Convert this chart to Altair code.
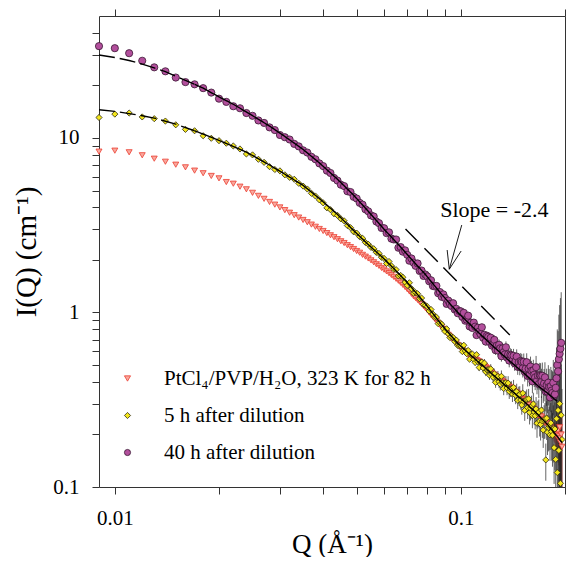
import altair as alt
import pandas as pd

FONT = "Liberation Serif"

SERIES = ["PtCl₄/PVP/H₂O, 323 K for 82 h", "5 h after dilution", "40 h after dilution"]
SHAPES = ["triangle-down", "diamond", "circle"]
FILLS = ["#f8a89d", "#f3e61c", "#b24f9c"]
STROKES = ["#ec3d31", "#2e2a10", "#3a1834"]
SIZES = [36, 38, 52]

# scattering vector Q (1/Angstrom), shared grid
Q = [0.009, 0.010, 0.011, 0.012, 0.013, 0.014, 0.015, 0.016, 0.017, 0.018,
     0.019, 0.020, 0.021, 0.022, 0.023, 0.024, 0.025, 0.026, 0.027, 0.028,
     0.029, 0.030, 0.031, 0.032, 0.033, 0.034, 0.035, 0.036, 0.037, 0.038,
     0.039, 0.040, 0.041, 0.042, 0.043, 0.044, 0.045, 0.046, 0.047, 0.048,
     0.049, 0.050, 0.051, 0.052, 0.053, 0.054, 0.055, 0.056, 0.057, 0.058,
     0.059, 0.060, 0.061, 0.062, 0.063, 0.064, 0.065, 0.066, 0.067, 0.068,
     0.069, 0.070, 0.071, 0.072, 0.073, 0.074, 0.075, 0.076, 0.077, 0.078,
     0.079, 0.080, 0.081, 0.082, 0.083, 0.084, 0.085, 0.086, 0.087, 0.088,
     0.089, 0.090, 0.091, 0.092, 0.093, 0.094, 0.095, 0.096, 0.097, 0.098,
     0.099, 0.100, 0.101, 0.102, 0.103, 0.104, 0.105, 0.106, 0.107, 0.108,
     0.109, 0.110, 0.111, 0.112, 0.113, 0.114, 0.115, 0.116, 0.117, 0.118,
     0.119, 0.120, 0.121, 0.122, 0.123, 0.124, 0.125, 0.126, 0.127, 0.128,
     0.129, 0.130, 0.131, 0.132, 0.133, 0.134, 0.135, 0.136, 0.137, 0.138,
     0.139, 0.140, 0.141, 0.142, 0.143, 0.144, 0.145, 0.146, 0.147, 0.148,
     0.149, 0.150, 0.151, 0.152, 0.153, 0.154, 0.155, 0.156, 0.157, 0.158,
     0.159, 0.160, 0.161, 0.162, 0.163, 0.164, 0.165, 0.166, 0.167, 0.168,
     0.169, 0.170, 0.171, 0.172, 0.173, 0.174, 0.175, 0.176, 0.177, 0.178,
     0.179, 0.180, 0.181, 0.182, 0.183, 0.184, 0.185, 0.186, 0.187, 0.188,
     0.189, 0.190, 0.191, 0.192, 0.193, 0.194, 0.195, 0.196]

I_PT = [8.35, 8.46, 8.28, 7.96, 7.61, 7.31, 7.03, 6.79, 6.50, 6.28,
        6.06, 5.87, 5.59, 5.47, 5.26, 5.08, 4.85, 4.66, 4.48, 4.30,
        4.15, 4.00, 3.86, 3.73, 3.61, 3.50, 3.39, 3.29, 3.19, 3.10,
        3.01, 2.93, 2.85, 2.77, 2.70, 2.63, 2.56, 2.50, 2.43, 2.37,
        2.31, 2.25, 2.20, 2.14, 2.09, 2.04, 1.99, 1.94, 1.89, 1.85,
        1.80, 1.76, 1.72, 1.68, 1.64, 1.60, 1.56, 1.52, 1.48, 1.44,
        1.40, 1.36, 1.32, 1.28, 1.24, 1.21, 1.18, 1.15, 1.12, 1.09,
        1.06, 1.03, 1.00, 0.97, 0.945, 0.92, 0.895, 0.87, 0.85, 0.825,
        0.805, 0.785, 0.765, 0.745, 0.728, 0.711, 0.695, 0.68, 0.665, 0.651,
        0.637, 0.624, 0.612, 0.601, 0.591, 0.582, 0.573, 0.565, 0.56, 0.553,
        0.547, 0.54, 0.534, 0.528, 0.522, 0.516, 0.509, 0.501, 0.494, 0.486,
        0.479, 0.471, 0.464, 0.457, 0.45, 0.443, 0.437, 0.432, 0.427, 0.422,
        0.417, 0.412, 0.407, 0.403, 0.398, 0.394, 0.389, 0.385, 0.38, 0.376,
        0.372, 0.368, 0.368, 0.359, 0.352, 0.35, 0.346, 0.342, 0.342, 0.334,
        0.33, 0.326, 0.318, 0.318, 0.314, 0.31, 0.31, 0.302, 0.298, 0.294,
        0.286, 0.287, 0.283, 0.279, 0.28, 0.272, 0.269, 0.265, 0.258, 0.258,
        0.255, 0.252, 0.253, 0.246, 0.243, 0.24, 0.233, 0.234, 0.232, 0.229,
        0.23, 0.224, 0.221, 0.219, 0.212, 0.213, 0.21, 0.207, 0.208, 0.201,
        0.198, 0.195, 0.21, 0.19, 0.22, 0.18, 0.2, 0.17]

I_5H = [13.1, 13.7, 13.9, 13.2, 12.9, 12.5, 11.9, 11.2, 11.0, 10.3,
        9.96, 9.65, 9.33, 9.0, 8.65, 8.1, 8.0, 7.55, 7.25, 6.85,
        6.6, 6.48, 6.15, 5.95, 5.8, 5.5, 5.3, 5.1, 4.82, 4.65,
        4.42, 4.25, 3.98, 3.88, 3.68, 3.6, 3.44, 3.35, 3.15, 3.06,
        2.9, 2.85, 2.72, 2.66, 2.52, 2.46, 2.36, 2.32, 2.21, 2.18,
        2.07, 2.04, 1.91, 1.96, 1.85, 1.77, 1.76, 1.62, 1.63, 1.59,
        1.49, 1.43, 1.48, 1.37, 1.29, 1.3, 1.28, 1.2, 1.21, 1.11,
        1.1, 1.08, 1.02, 1.04, 0.98, 0.94, 0.94, 0.863, 0.874, 0.857,
        0.807, 0.779, 0.806, 0.755, 0.718, 0.727, 0.719, 0.683, 0.695, 0.647,
        0.645, 0.645, 0.597, 0.649, 0.602, 0.581, 0.606, 0.54, 0.576, 0.578,
        0.537, 0.517, 0.573, 0.523, 0.484, 0.517, 0.519, 0.481, 0.513, 0.457,
        0.469, 0.471, 0.437, 0.475, 0.441, 0.425, 0.445, 0.398, 0.426, 0.43,
        0.401, 0.388, 0.431, 0.395, 0.367, 0.394, 0.396, 0.369, 0.394, 0.353,
        0.364, 0.367, 0.341, 0.372, 0.347, 0.335, 0.352, 0.314, 0.337, 0.339,
        0.315, 0.295, 0.345, 0.31, 0.275, 0.313, 0.319, 0.285, 0.32, 0.267,
        0.283, 0.29, 0.257, 0.299, 0.269, 0.256, 0.28, 0.232, 0.264, 0.269,
        0.239, 0.228, 0.276, 0.239, 0.212, 0.241, 0.246, 0.143, 0.248, 0.206,
        0.219, 0.225, 0.199, 0.233, 0.208, 0.198, 0.216, 0.168, 0.215, 0.144,
        0.246, 0.121, 0.275, 0.162, 0.30, 0.105, 0.258, 0.187]

I_40H = [33.6, 32.7, 30.6, 27.7, 25.4, 24.1, 22.2, 20.9, 20.3, 19.3,
         18.2, 16.8, 16.1, 15.2, 14.8, 13.9, 13.4, 12.6, 12.2, 11.5,
         11.1, 10.4, 10.1, 9.8, 9.25, 8.95, 8.5, 8.25, 7.8, 7.55,
         7.15, 6.9, 6.5, 6.3, 5.9, 5.7, 5.4, 5.3, 4.95, 4.9,
         4.6, 4.5, 4.25, 4.15, 3.9, 3.8, 3.6, 3.55, 3.32, 3.25,
         3.05, 3.04, 2.85, 2.88, 2.65, 2.62, 2.62, 2.35, 2.37, 2.23,
         2.27, 2.14, 1.98, 2.04, 1.93, 1.85, 1.91, 1.73, 1.74, 1.62,
         1.65, 1.61, 1.51, 1.53, 1.42, 1.41, 1.42, 1.29, 1.31, 1.23,
         1.27, 1.21, 1.12, 1.17, 1.12, 1.09, 1.13, 1.04, 1.05, 0.99,
         1.02, 1.015, 0.943, 0.996, 0.897, 0.91, 0.959, 0.832, 0.875, 0.815,
         0.875, 0.83, 0.742, 0.818, 0.778, 0.752, 0.823, 0.716, 0.745, 0.681,
         0.736, 0.725, 0.678, 0.717, 0.646, 0.66, 0.697, 0.608, 0.646, 0.605,
         0.653, 0.624, 0.562, 0.622, 0.593, 0.575, 0.632, 0.552, 0.576, 0.53,
         0.573, 0.567, 0.532, 0.565, 0.512, 0.526, 0.559, 0.488, 0.52, 0.488,
         0.528, 0.521, 0.479, 0.522, 0.457, 0.477, 0.519, 0.433, 0.476, 0.437,
         0.49, 0.463, 0.403, 0.466, 0.44, 0.425, 0.486, 0.407, 0.435, 0.389,
         0.438, 0.434, 0.4, 0.434, 0.378, 0.392, 0.425, 0.352, 0.384, 0.352,
         0.396, 0.374, 0.326, 0.378, 0.357, 0.346, 0.396, 0.333, 0.34, 0.37,
         0.42, 0.5, 0.46, 0.54, 0.58, 0.62, 0.67]

# relative error bars (fraction of I) at the high-Q end
ERR_PT_START = 0.180
ERR_PT = [0.05, 0.06, 0.07, 0.08, 0.09, 0.1, 0.12, 0.14, 0.16, 0.18,
          0.2, 0.25, 0.3, 0.35, 0.4, 0.45, 0.5]
ERR_5H_START = 0.110
ERR_5H = [0.04, 0.04, 0.045, 0.045, 0.05, 0.05, 0.05, 0.055, 0.055, 0.06,
          0.06, 0.06, 0.065, 0.065, 0.07, 0.07, 0.07, 0.075, 0.075, 0.08,
          0.08, 0.08, 0.085, 0.085, 0.09, 0.09, 0.09, 0.095, 0.095, 0.1,
          0.1, 0.1, 0.105, 0.105, 0.11, 0.11, 0.11, 0.115, 0.115, 0.12,
          0.12, 0.125, 0.125, 0.13, 0.13, 0.135, 0.14, 0.14, 0.145, 0.15,
          0.15, 0.155, 0.16, 0.16, 0.165, 0.17, 0.175, 0.18, 0.18, 0.185,
          0.19, 0.2, 0.2, 0.21, 0.22, 0.23, 0.24, 0.25, 0.26, 0.27,
          0.28, 0.29, 0.3, 0.32, 0.34, 0.36, 0.38, 0.42, 0.46, 0.5,
          0.55, 0.65, 0.75, 0.85, 0.95, 0.95, 0.95]
ERR_40H_START = 0.110
ERR_40H = [0.035, 0.035, 0.04, 0.04, 0.04, 0.045, 0.045, 0.045, 0.05, 0.05,
           0.05, 0.055, 0.055, 0.055, 0.06, 0.06, 0.06, 0.065, 0.065, 0.07,
           0.07, 0.07, 0.075, 0.075, 0.08, 0.08, 0.08, 0.085, 0.085, 0.09,
           0.09, 0.09, 0.095, 0.095, 0.1, 0.1, 0.1, 0.105, 0.105, 0.11,
           0.11, 0.115, 0.115, 0.12, 0.12, 0.125, 0.13, 0.13, 0.135, 0.14,
           0.14, 0.145, 0.15, 0.15, 0.155, 0.16, 0.165, 0.17, 0.17, 0.175,
           0.18, 0.19, 0.19, 0.2, 0.21, 0.22, 0.23, 0.24, 0.25, 0.26,
           0.27, 0.28, 0.29, 0.31, 0.33, 0.35, 0.37, 0.4, 0.45, 0.5,
           0.6, 0.7, 0.8, 0.9, 0.95, 0.95]

# model fits
FIT_40H_Q = [0.009, 0.010, 0.011, 0.012, 0.013, 0.014, 0.015, 0.016, 0.017,
             0.018, 0.020, 0.022, 0.024, 0.026, 0.028, 0.031, 0.035, 0.039,
             0.044, 0.049, 0.054, 0.060, 0.066, 0.071, 0.079, 0.088, 0.098,
             0.110, 0.123, 0.137, 0.153, 0.167, 0.178, 0.186, 0.190]
FIT_40H_I = [29.9, 28.9, 27.8, 26.5, 25.2, 24.0, 22.6, 21.4, 20.3,
             19.3, 17.2, 15.6, 14.1, 12.8, 11.7, 10.2, 8.6, 7.2,
             5.8, 4.7, 3.8, 3.0, 2.45, 2.08, 1.65, 1.27, 1.0,
             0.8, 0.65, 0.535, 0.445, 0.38, 0.345, 0.32, 0.31]
FIT_5H_Q = [0.009, 0.010, 0.011, 0.012, 0.013, 0.015, 0.017, 0.019, 0.021,
            0.024, 0.028, 0.031, 0.035, 0.039, 0.044, 0.049, 0.054, 0.060,
            0.066, 0.071, 0.079, 0.088, 0.098, 0.110, 0.123, 0.137, 0.153,
            0.167, 0.178, 0.186, 0.190, 0.196]
FIT_5H_I = [14.5, 14.2, 13.8, 13.4, 13.0, 12.0, 11.0, 10.1, 9.3,
            8.3, 7.0, 6.2, 5.35, 4.5, 3.65, 2.95, 2.45, 2.03,
            1.68, 1.44, 1.12, 0.85, 0.665, 0.54, 0.445, 0.37, 0.307,
            0.26, 0.228, 0.205, 0.195, 0.18]
FIT_DASH_END = 0.017

# slope guide, arrow and label
SLOPE_Q = [0.0692, 0.1385]
SLOPE_I = [3.01, 0.743]
ARROW_Q = [0.1006, 0.0926, 0.0913, 0.0926, 0.1002]
ARROW_I = [3.17, 1.77, 2.28, 1.77, 2.25]
ARROW_GROUP = ["shaft", "shaft", "head", "head", "head"]
LABEL_Q = [0.1250]
LABEL_I = [3.53]
LABEL_TEXT = ["Slope = -2.4"]

XT = [0.01, 0.02, 0.03, 0.04, 0.05, 0.06, 0.07, 0.08, 0.09, 0.1, 0.2]
YT = [0.1, 0.2, 0.3, 0.4, 0.5, 0.6, 0.7, 0.8, 0.9,
      1, 2, 3, 4, 5, 6, 7, 8, 9,
      10, 20, 30, 40]

# ---------------- tables ----------------
rows = []
for name, vals, sz in zip(SERIES, [I_PT, I_5H, I_40H], SIZES):
    for q, v in zip(Q, vals):
        rows.append({"Q": q, "I": v, "series": name, "sz": sz})
df_pts = pd.DataFrame(rows)

erows = []
for name, vals, start, errs, col in [
    (SERIES[0], I_PT, ERR_PT_START, ERR_PT, "#ec3d31"),
    (SERIES[1], I_5H, ERR_5H_START, ERR_5H, "#222222"),
    (SERIES[2], I_40H, ERR_40H_START, ERR_40H, "#222222"),
]:
    i0 = Q.index(start)
    for k, e in enumerate(errs):
        q = Q[i0 + k]
        v = vals[i0 + k]
        erows.append({"Q": q, "lo": v * (1 - e), "hi": v * (1 + e), "ec": col})
df_err = pd.DataFrame(erows)

frows = []
for name, fq, fi in [("40h", FIT_40H_Q, FIT_40H_I), ("5h", FIT_5H_Q, FIT_5H_I)]:
    for q, v in zip(fq, fi):
        if q <= FIT_DASH_END:
            frows.append({"Q": q, "I": v, "fit": name, "part": "dash"})
        if q >= FIT_DASH_END:
            frows.append({"Q": q, "I": v, "fit": name, "part": "solid"})
df_fit = pd.DataFrame(frows)

df_slope = pd.DataFrame({"Q": SLOPE_Q, "I": SLOPE_I})
df_arrow = pd.DataFrame({"Q": ARROW_Q, "I": ARROW_I, "g": ARROW_GROUP,
                         "k": list(range(len(ARROW_Q)))})
df_label = pd.DataFrame({"Q": LABEL_Q, "I": LABEL_I, "t": LABEL_TEXT})

# ---------------- scales / axes ----------------
xs = alt.Scale(type="log", domain=[0.009, 0.2], nice=False)
ys = alt.Scale(type="log", domain=[0.1, 50], nice=False)

common = dict(domainColor="#333333", tickColor="#333333", domainWidth=1,
              tickWidth=1, tickSize=7, grid=False, labelFont=FONT,
              labelFontSize=21, labelColor="black", titleFont=FONT,
              titleFontWeight="normal", titleColor="black",
              labelOverlap=False, labelFlush=False)

x_bottom = alt.Axis(orient="bottom", values=XT,
                    labelExpr="datum.value == 0.01 ? '0.01' : (datum.value == 0.1 ? '0.1' : '')",
                    labelPadding=13, title="Q (Å⁻¹)", titleFontSize=27,
                    titlePadding=3, **common)
x_top = alt.Axis(orient="top", values=XT, labels=False, title=None, **common)
y_left = alt.Axis(orient="left", values=YT,
                  labelExpr="datum.value == 0.1 ? '0.1' : (datum.value == 1 ? '1' : (datum.value == 10 ? '10' : ''))",
                  labelPadding=13, title="I(Q) (cm⁻¹)", titleFontSize=29,
                  titlePadding=11, **common)
y_right = alt.Axis(orient="right", values=YT, labels=False, title=None, **common)

leg = alt.Legend(title=None, orient="none", legendX=18, legendY=352,
                 direction="vertical", labelFont=FONT, labelFontSize=21,
                 labelColor="black", symbolSize=38, symbolStrokeWidth=0.8,
                 rowPadding=15, labelOffset=26, padding=0, labelLimit=400,
                 symbolOpacity=1)

# ---------------- layers ----------------
err = alt.Chart(df_err).mark_rule(strokeWidth=0.7, clip=True).encode(
    x=alt.X("Q:Q", scale=xs, axis=None),
    y=alt.Y("lo:Q", scale=ys, axis=None),
    y2="hi:Q",
    color=alt.Color("ec:N", scale=None, legend=None),
)

pts = alt.Chart(df_pts).mark_point(opacity=1, fillOpacity=1, strokeWidth=0.8).encode(
    x=alt.X("Q:Q", scale=xs, axis=x_bottom),
    y=alt.Y("I:Q", scale=ys, axis=y_left),
    shape=alt.Shape("series:N", scale=alt.Scale(domain=SERIES, range=SHAPES), legend=leg),
    fill=alt.Fill("series:N", scale=alt.Scale(domain=SERIES, range=FILLS), legend=leg),
    stroke=alt.Stroke("series:N", scale=alt.Scale(domain=SERIES, range=STROKES), legend=leg),
    size=alt.Size("sz:Q", scale=None, legend=None),
)

fit = alt.Chart(df_fit).mark_line(color="black", strokeWidth=1.4, clip=True).encode(
    x=alt.X("Q:Q", scale=xs, axis=x_top),
    y=alt.Y("I:Q", scale=ys, axis=y_right),
    detail="fit:N",
    strokeDash=alt.StrokeDash("part:N", scale=alt.Scale(domain=["dash", "solid"],
                                                        range=[[16, 5], [1, 0]]), legend=None),
    order="Q:Q",
)

slope = alt.Chart(df_slope).mark_line(color="black", strokeWidth=1.4, strokeDash=[19, 8]).encode(
    x=alt.X("Q:Q", scale=xs, axis=None),
    y=alt.Y("I:Q", scale=ys, axis=None),
)

arrow = alt.Chart(df_arrow).mark_line(color="black", strokeWidth=0.9).encode(
    x=alt.X("Q:Q", scale=xs, axis=None),
    y=alt.Y("I:Q", scale=ys, axis=None),
    detail="g:N",
    order="k:Q",
)

label = alt.Chart(df_label).mark_text(font=FONT, fontSize=22, color="black",
                                      align="center", baseline="alphabetic").encode(
    x=alt.X("Q:Q", scale=xs, axis=None),
    y=alt.Y("I:Q", scale=ys, axis=None),
    text="t:N",
)

chart = alt.layer(err, pts, fit, slope, arrow, label).resolve_axis(
    x="independent", y="independent"
).properties(
    width=466, height=471,
    autosize=alt.AutoSizeParams(type="none"),
    padding={"left": 91, "top": 8, "right": 1, "bottom": 70},
).configure_view(stroke=None)

chart.save("out.html", embed_options={"renderer": "svg", "actions": False})
